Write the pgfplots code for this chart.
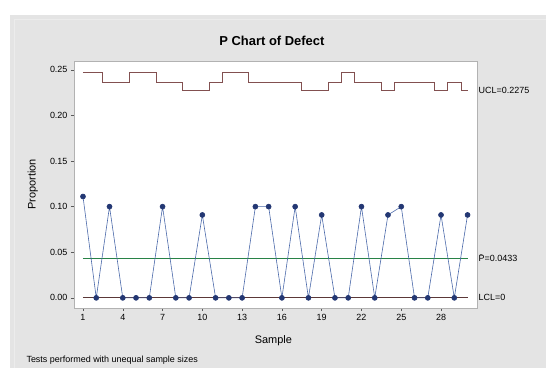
\documentclass[border=0pt]{standalone}
\usepackage{pgfplots}
\pgfplotsset{compat=1.18}
\usepackage{fontspec}
\setmainfont{Liberation Sans}
\definecolor{bg}{RGB}{228,228,228}
\definecolor{ptcol}{RGB}{35,55,115}
\definecolor{lncol}{RGB}{75,105,170}
\definecolor{ctr}{RGB}{40,130,70}
\definecolor{lim}{RGB}{130,80,80}
\begin{document}
\begin{tikzpicture}[x=1bp,y=1bp]
\fill[white] (-74,-60) rectangle (472,308);
\fill[bg] (-64,-60) rectangle (472,293);
\draw[white!85!gray] (-60,-60) -- (-60,289) -- (472,289);
\node[font=\fontsize{13}{15}\selectfont\bfseries] at (198,267) {P Chart of Defect};
\node[anchor=west,font=\fontsize{9}{10}\selectfont] at (-51,-52) {Tests performed with unequal sample sizes};
\begin{axis}[
  at={(0,0)}, anchor=south west, scale only axis,
  width=403bp, height=247bp,
  xmin=0.32, xmax=30.7, ymin=-0.011, ymax=0.2597,
  xtick={1,4,7,10,13,16,19,22,25,28},
  ytick={0,0.05,0.1,0.15,0.2,0.25},
  yticklabel style={/pgf/number format/.cd, fixed, fixed zerofill, precision=2},
  /pgf/number format/assume math mode=true,
  tick label style={font=\fontsize{9}{10}\selectfont},
  tick align=outside, tick pos=left, major tick length=3bp,
  axis line style={draw=gray!60},
  every tick/.style={gray!70!black},
  xlabel={Sample}, ylabel={Proportion},
  label style={font=\fontsize{11}{12}\selectfont},
  xlabel style={at={(axis description cs:0.495,-0.134)}, anchor=center},
  ylabel style={at={(axis description cs:-0.102,0.5)}, anchor=center},
  clip=false,
  axis background/.style={fill=white},
]
% UCL (varies with sample size)
\addplot[lim, thick, const plot mark mid] coordinates {
(1,0.2469) (2,0.2469) (3,0.2365) (4,0.2365) (5,0.2469) (6,0.2469)
(7,0.2365) (8,0.2365) (9,0.2275) (10,0.2275) (11,0.2365) (12,0.2469)
(13,0.2469) (14,0.2365) (15,0.2365) (16,0.2365) (17,0.2365) (18,0.2275)
(19,0.2275) (20,0.2365) (21,0.2469) (22,0.2365) (23,0.2365) (24,0.2275)
(25,0.2365) (26,0.2365) (27,0.2365) (28,0.2275) (29,0.2365) (30,0.2275)};
% LCL
\addplot[lim!70!black, thick] coordinates {(1,0) (30,0)};
% Center line
\addplot[ctr, thick] coordinates {(1,0.0433) (30,0.0433)};
% Proportions
\addplot[lncol, semithick, mark=*, mark size=2.5bp, mark options={fill=ptcol, draw=ptcol}] coordinates {
(1,0.1111) (2,0) (3,0.1) (4,0) (5,0) (6,0) (7,0.1) (8,0) (9,0) (10,0.0909)
(11,0) (12,0) (13,0) (14,0.1) (15,0.1) (16,0) (17,0.1) (18,0) (19,0.0909) (20,0)
(21,0) (22,0.1) (23,0) (24,0.0909) (25,0.1) (26,0) (27,0) (28,0.0909) (29,0) (30,0.0909)};
\node[anchor=west, font=\fontsize{9}{10}\selectfont, inner sep=1bp] at (axis cs:30.75,0.2275) {UCL=0.2275};
\node[anchor=west, font=\fontsize{9}{10}\selectfont, inner sep=1bp] at (axis cs:30.75,0.0433) {\={P}=0.0433};
\node[anchor=west, font=\fontsize{9}{10}\selectfont, inner sep=1bp] at (axis cs:30.75,0) {LCL=0};
\end{axis}
\end{tikzpicture}
\end{document}
